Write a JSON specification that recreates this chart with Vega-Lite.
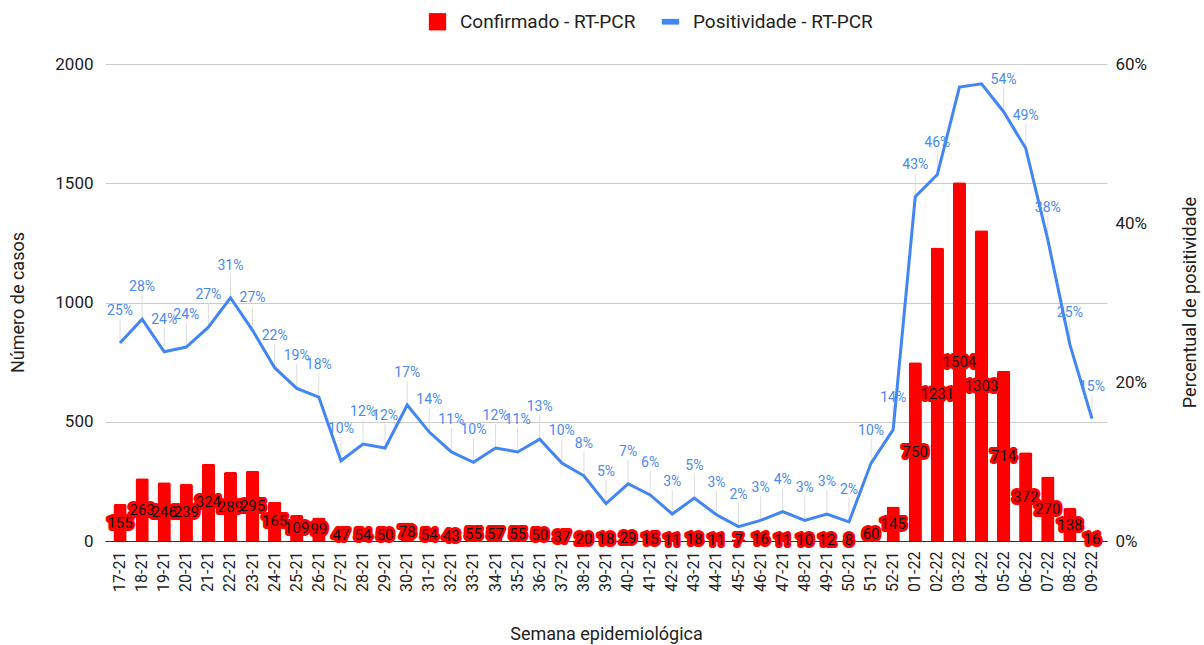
{
  "$schema": "https://vega.github.io/schema/vega-lite/v6.json",
  "width": 1002,
  "height": 477,
  "autosize": {"type": "none"},
  "padding": {"left": 105, "top": 64, "right": 97, "bottom": 104},
  "config": {
    "font": "Roboto",
    "view": {"stroke": null},
    "axis": {"labelColor": "#222222", "titleColor": "#222222", "titleFontWeight": "normal"}
  },
  "data": {
    "values": [
      {"semana": "17-21", "casos": 155, "pct": 0.249},
      {"semana": "18-21", "casos": 263, "pct": 0.279},
      {"semana": "19-21", "casos": 246, "pct": 0.238},
      {"semana": "20-21", "casos": 239, "pct": 0.244},
      {"semana": "21-21", "casos": 324, "pct": 0.269},
      {"semana": "22-21", "casos": 289, "pct": 0.306},
      {"semana": "23-21", "casos": 295, "pct": 0.265},
      {"semana": "24-21", "casos": 165, "pct": 0.218},
      {"semana": "25-21", "casos": 109, "pct": 0.192},
      {"semana": "26-21", "casos": 99, "pct": 0.181},
      {"semana": "27-21", "casos": 47, "pct": 0.101},
      {"semana": "28-21", "casos": 54, "pct": 0.122},
      {"semana": "29-21", "casos": 50, "pct": 0.117},
      {"semana": "30-21", "casos": 78, "pct": 0.171},
      {"semana": "31-21", "casos": 54, "pct": 0.137},
      {"semana": "32-21", "casos": 43, "pct": 0.112},
      {"semana": "33-21", "casos": 55, "pct": 0.099},
      {"semana": "34-21", "casos": 57, "pct": 0.117},
      {"semana": "35-21", "casos": 55, "pct": 0.112},
      {"semana": "36-21", "casos": 50, "pct": 0.128},
      {"semana": "37-21", "casos": 37, "pct": 0.098},
      {"semana": "38-21", "casos": 20, "pct": 0.082},
      {"semana": "39-21", "casos": 18, "pct": 0.047},
      {"semana": "40-21", "casos": 29, "pct": 0.072},
      {"semana": "41-21", "casos": 15, "pct": 0.058},
      {"semana": "42-21", "casos": 11, "pct": 0.034},
      {"semana": "43-21", "casos": 18, "pct": 0.054},
      {"semana": "44-21", "casos": 11, "pct": 0.033},
      {"semana": "45-21", "casos": 7, "pct": 0.018},
      {"semana": "46-21", "casos": 16, "pct": 0.026},
      {"semana": "47-21", "casos": 11, "pct": 0.037},
      {"semana": "48-21", "casos": 10, "pct": 0.026},
      {"semana": "49-21", "casos": 12, "pct": 0.034},
      {"semana": "50-21", "casos": 8, "pct": 0.024},
      {"semana": "51-21", "casos": 60, "pct": 0.098},
      {"semana": "52-21", "casos": 145, "pct": 0.140},
      {"semana": "01-22", "casos": 750, "pct": 0.433},
      {"semana": "02-22", "casos": 1231, "pct": 0.461},
      {"semana": "03-22", "casos": 1504, "pct": 0.571},
      {"semana": "04-22", "casos": 1303, "pct": 0.575},
      {"semana": "05-22", "casos": 714, "pct": 0.540},
      {"semana": "06-22", "casos": 372, "pct": 0.494},
      {"semana": "07-22", "casos": 270, "pct": 0.379},
      {"semana": "08-22", "casos": 138, "pct": 0.247},
      {"semana": "09-22", "casos": 16, "pct": 0.154}
    ]
  },
  "encoding": {
    "x": {
      "field": "semana",
      "type": "ordinal",
      "sort": null,
      "scale": {"paddingInner": 0.4, "paddingOuter": 0.38},
      "axis": {
        "title": "Semana epidemiológica",
        "titleFontSize": 18,
        "titleY": 93,
        "titleBaseline": "middle",
        "labelAngle": -90,
        "labelFontSize": 16,
        "labelPadding": 10,
        "ticks": false,
        "domainColor": "#333333",
        "domainWidth": 1,
        "grid": false
      }
    }
  },
  "layer": [
    {
      "mark": {"type": "bar", "cornerRadiusEnd": 2},
      "encoding": {
        "y": {
          "field": "casos",
          "type": "quantitative",
          "scale": {"domain": [0, 2000], "nice": false},
          "axis": {
            "orient": "left",
            "format": "d",
            "title": "Número de casos",
            "titleFontSize": 18,
            "titleAngle": -90,
            "titleX": -87,
            "titleY": 238,
            "titleBaseline": "middle",
            "values": [0, 500, 1000, 1500, 2000],
            "labelFontSize": 17,
            "labelPadding": 12,
            "ticks": false,
            "domain": false,
            "grid": true,
            "gridColor": "#cccccc"
          }
        },
        "color": {
          "datum": "Confirmado - RT-PCR",
          "type": "nominal",
          "scale": {
            "domain": ["Confirmado - RT-PCR", "Positividade - RT-PCR"],
            "range": ["#ff0000", "#4285f4"]
          },
          "legend": {
            "title": null,
            "orient": "none",
            "legendX": 323,
            "legendY": -52,
            "direction": "horizontal",
            "padding": 0,
            "symbolSize": 300,
            "labelFontSize": 19,
            "labelLimit": 400,
            "labelColor": "#222222",
            "labelOffset": 13,
            "columnPadding": 25,
            "encode": {
              "symbols": {
                "update": {
                  "shape": {"signal": "datum.value == 'Positividade - RT-PCR' ? 'M-1,-0.33H1V0.33H-1Z' : 'square'"},
                  "fill": {"signal": "datum.value == 'Positividade - RT-PCR' ? '#4285f4' : '#ff0000'"},
                  "stroke": {"value": "transparent"},
                  "strokeWidth": {"value": 0},
                  "opacity": {"value": 1}
                }
              }
            }
          }
        }
      }
    },
    {
      "encoding": {
        "y": {
          "field": "pct",
          "type": "quantitative",
          "scale": {"domain": [0, 0.6], "nice": false},
          "axis": {
            "orient": "right",
            "format": ".0%",
            "title": "Percentual de positividade",
            "titleFontSize": 18,
            "titleAngle": -90,
            "titleX": 83,
            "titleY": 238,
            "titleBaseline": "middle",
            "values": [0, 0.2, 0.4, 0.6],
            "labelFontSize": 17,
            "labelPadding": 8,
            "ticks": false,
            "domain": false,
            "grid": false
          }
        }
      },
      "layer": [
        {
          "transform": [{"filter": "datum.semana != '03-22' && datum.semana != '04-22'"}],
          "mark": {"type": "rule", "color": "#dddddd", "strokeWidth": 1, "y2Offset": -24},
          "encoding": {"y2": {"field": "pct"}}
        },
        {
          "mark": {"type": "line", "strokeWidth": 3},
          "encoding": {
            "color": {"datum": "Positividade - RT-PCR", "type": "nominal"}
          }
        },
        {
          "transform": [{"filter": "datum.semana != '03-22' && datum.semana != '04-22'"}],
          "mark": {"type": "text", "dy": -32, "baseline": "middle", "align": "center", "fontSize": 14, "color": "#4a89f3"},
          "encoding": {"text": {"field": "pct", "type": "quantitative", "format": ".0%"}}
        }
      ]
    },
    {
      "encoding": {
        "y": {
          "field": "casos",
          "type": "quantitative",
          "scale": {"domain": [0, 4000], "nice": false},
          "axis": null
        },
        "text": {"field": "casos", "type": "quantitative"}
      },
      "layer": [
        {
          "mark": {"type": "text", "baseline": "middle", "align": "center", "fontSize": 15, "color": "#ff0000", "stroke": "#ff0000", "strokeWidth": 6, "strokeJoin": "round"}
        },
        {
          "mark": {"type": "text", "baseline": "middle", "align": "center", "fontSize": 15, "color": "#111111"}
        }
      ]
    }
  ],
  "resolve": {"scale": {"y": "independent"}, "axis": {"y": "independent"}}
}
